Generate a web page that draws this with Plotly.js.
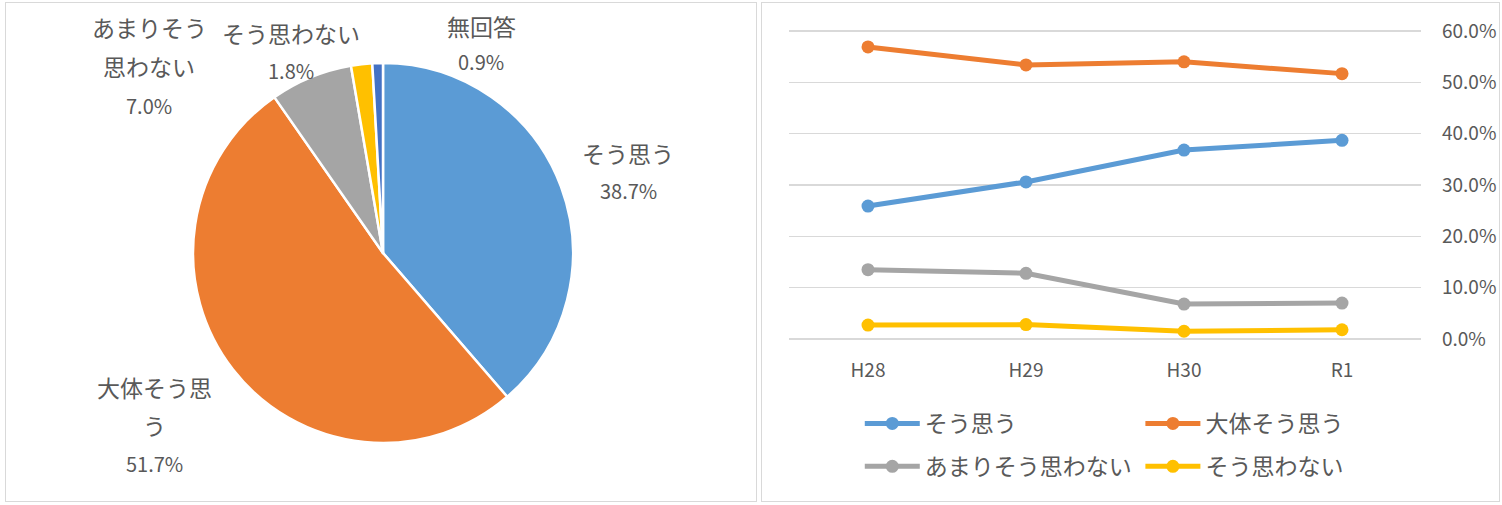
<!DOCTYPE html>
<html>
<head>
<meta charset="utf-8">
<script src="https://cdn.plot.ly/plotly-3.0.1.min.js"></script>
<style>
  body { margin: 0; background: #fff; }
  .panel { position: absolute; top: 2px; height: 500px; border: 1px solid #d9d9d9; box-sizing: border-box; }
  #pie-panel { left: 5px; width: 752px; }
  #line-panel { left: 761px; width: 739px; }
</style>
</head>
<body>
<div id="pie-panel" class="panel"><div id="pie-chart"></div></div>
<div id="line-panel" class="panel"><div id="line-chart"></div></div>
<script>
// pie (R1)
const pieLabels = ['そう思う', '大体そう思う', 'あまりそう思わない', 'そう思わない', '無回答'];
const pieValues = [38.7, 51.7, 7.0, 1.8, 0.9];
const pieColors = ['#5b9bd5', '#ed7d31', '#a5a5a5', '#ffc000', '#4472c4'];

// trend
const years = ['H28', 'H29', 'H30', 'R1'];
const seriesNames = ['そう思う', '大体そう思う', 'あまりそう思わない', 'そう思わない'];
const soOmou = [25.9, 30.6, 36.8, 38.7];
const daitaiSoOmou = [56.9, 53.4, 54.0, 51.7];
const amariSoOmowanai = [13.5, 12.8, 6.8, 7.0];
const soOmowanai = [2.7, 2.8, 1.5, 1.8];
const lineColors = ['#5b9bd5', '#ed7d31', '#a5a5a5', '#ffc000'];

const FONT = '"Noto Sans CJK JP", "Noto Sans", sans-serif';
const GREY = '#595959';

// where each pie label sits (panel pixels) and how its name is wrapped
const pieLabelPos = [
  { lines: ['そう思う'], x: 622, y: 150, gap: 37 },
  { lines: ['大体そう思', 'う'], x: 148, y: 384, gap: 38 },
  { lines: ['あまりそう', '思わない'], x: 143, y: 24, gap: 39 },
  { lines: ['そう思わない'], x: 285, y: 30, gap: 37 },
  { lines: ['無回答'], x: 475, y: 23, gap: 35 }
];

function createPie(selector) {
  const W = 750, H = 498;
  const annotations = [];
  pieLabelPos.forEach((p, i) => {
    const lines = p.lines.concat([pieValues[i].toFixed(1) + '%']);
    lines.forEach((t, j) => {
      const isValue = j === lines.length - 1;
      annotations.push({
        text: t, showarrow: false, xref: 'paper', yref: 'paper',
        x: p.x / W, y: 1 - (p.y + j * p.gap) / H,
        xanchor: 'center', yanchor: 'middle',
        font: { size: isValue ? 20 : 23, color: GREY, family: FONT }
      });
    });
  });

  const trace = {
    type: 'pie',
    labels: pieLabels,
    values: pieValues,
    sort: false,
    direction: 'clockwise',
    rotation: 0,
    textinfo: 'none',
    hoverinfo: 'label+percent',
    marker: { colors: pieColors, line: { color: '#ffffff', width: 2.5 } },
    domain: { x: [187 / W, 567 / W], y: [1 - 440 / H, 1 - 60 / H] }
  };

  const layout = {
    width: W, height: H,
    margin: { l: 0, r: 0, t: 0, b: 0 },
    showlegend: false,
    font: { family: FONT, color: GREY },
    paper_bgcolor: '#ffffff',
    annotations: annotations
  };
  Plotly.newPlot(selector, [trace], layout, { displayModeBar: false, staticPlot: true });
}

function createLineChart(selector) {
  const allSeries = [soOmou, daitaiSoOmou, amariSoOmowanai, soOmowanai];
  const legendOf = ['legend', 'legend2', 'legend', 'legend2'];
  const traces = allSeries.map((vals, i) => ({
    type: 'scatter',
    mode: 'lines+markers',
    x: years,
    y: vals,
    name: seriesNames[i],
    legend: legendOf[i],
    legendgroup: 'g' + i,
    line: { color: lineColors[i], width: 5 },
    marker: { color: lineColors[i], size: 13 }
  }));

  const legendStyle = {
    orientation: 'v',
    xanchor: 'left', yanchor: 'top',
    y: -0.2,
    font: { size: 23, color: GREY, family: FONT },
    bgcolor: 'rgba(0,0,0,0)',
    traceorder: 'grouped',
    tracegroupgap: 10,
    itemwidth: 55
  };

  const layout = {
    width: 737, height: 498,
    margin: { l: 27, r: 78, t: 27, b: 161 },
    font: { family: FONT, color: GREY },
    paper_bgcolor: '#ffffff',
    plot_bgcolor: '#ffffff',
    showlegend: true,
    legend: Object.assign({}, legendStyle, { x: 0.112 }),
    legend2: Object.assign({}, legendStyle, { x: 0.556 }),
    xaxis: {
      type: 'category',
      range: [-0.5, 3.5],
      showgrid: false, zeroline: false, showline: false,
      ticks: '', ticklabelstandoff: 17,
      tickfont: { size: 19, color: GREY, family: FONT }
    },
    yaxis: {
      side: 'right',
      range: [-0.2, 60.2],
      tickmode: 'linear', tick0: 0, dtick: 10,
      tickformat: '.1f', ticksuffix: '%', showticksuffix: 'all',
      showgrid: true, gridcolor: '#d9d9d9', gridwidth: 1.5,
      zeroline: true, zerolinecolor: '#d9d9d9', zerolinewidth: 1.5,
      showline: false,
      ticks: '', ticklabelstandoff: 20,
      tickfont: { size: 19, color: GREY, family: FONT }
    }
  };
  Plotly.newPlot(selector, traces, layout, { displayModeBar: false, staticPlot: true });
}

createPie('pie-chart');
createLineChart('line-chart');
</script>
</body>
</html>
